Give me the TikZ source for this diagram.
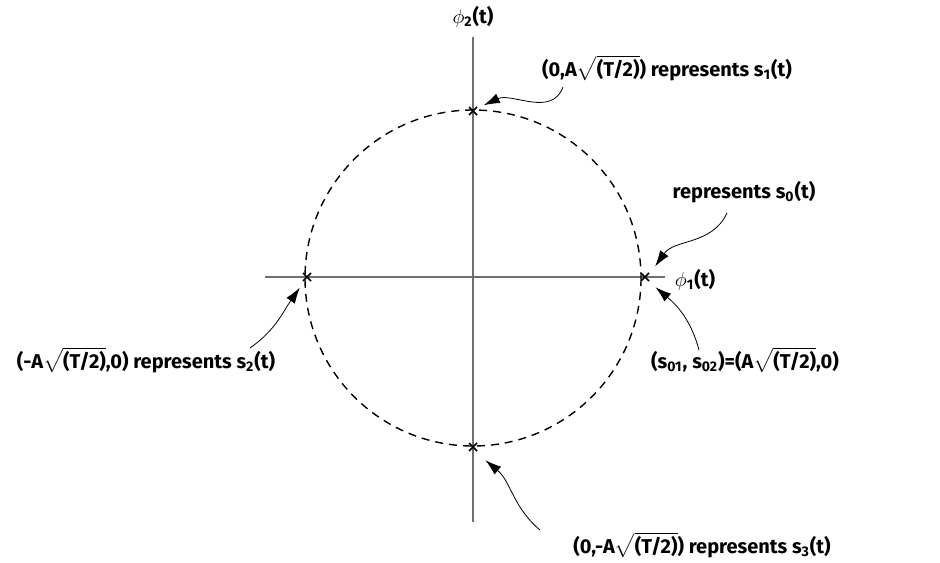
\documentclass[tikz,border=0pt]{standalone}
\usepackage{amsmath}
\usepackage{fontspec}
\setmainfont{Fira Sans}
\usepackage{tikz}
\usetikzlibrary{arrows.meta}
\definecolor{AxisGray}{HTML}{6E6E6E}

\begin{document}
\begin{tikzpicture}[x=0.5pt, y=-0.5pt,
  axis/.style={draw=AxisGray, line width=0.6pt},
  orbit/.style={draw=black, dashed, line width=0.7pt, dash pattern=on 4pt off 3pt},
  tag/.style={font=\fontsize{10}{12}\selectfont\bfseries, inner sep=1pt},
  pointer/.style={-{Latex[length=2.8mm, width=1.8mm]}, line width=0.4pt, shorten >=1pt},
  cross/.style={line width=0.8pt}
]
\useasboundingbox (0,0) rectangle (940,562);
% axes
\coordinate (o) at (473,278);
\draw[axis] (265,277) -- (665,277);
\draw[axis] (473,37) -- (473,522);
\node[tag] (phi2) at (473,17) {$\phi$\textsubscript{2}(t)};
\node[tag] (phi1) at (695,280) {$\phi$\textsubscript{1}(t)};
% signal circle
\draw[orbit] (o) circle (168);
% signal points
\coordinate (p0) at (645,277);
\coordinate (p1) at (473,111);
\coordinate (p2) at (307,277);
\coordinate (p3) at (473,447);
\foreach \p in {p0,p1,p2,p3}
  \draw[cross] ([shift={(-4,-4)}]\p) -- ([shift={(4,4)}]\p)
               ([shift={(-4,4)}]\p) -- ([shift={(4,-4)}]\p);
% labels
\node[tag] (l1) at (667,68) {(0,A$\sqrt{\mbox{(T/2)}}$) represents s\textsubscript{1}(t)};
\node[tag] (l0) at (744,192) {represents s\textsubscript{0}(t)};
\node[tag] (l2) at (146,360) {(-A$\sqrt{\mbox{(T/2)}}$,0) represents s\textsubscript{2}(t)};
\node[tag] (l0b) at (745,360) {(s\textsubscript{01}, s\textsubscript{02})=(A$\sqrt{\mbox{(T/2)}}$,0)};
\node[tag] (l3) at (702,545) {(0,-A$\sqrt{\mbox{(T/2)}}$) represents s\textsubscript{3}(t)};
% pointers
\coordinate (t1) at (563,87);
\coordinate (t0) at (727,213);
\coordinate (t2) at (250,348);
\coordinate (t0b) at (699,350);
\coordinate (t3) at (540,530);
\draw[pointer] (t1) to[out=-110, in=25] ([shift={(9,-5)}]p1);
\draw[pointer] (t0) to[out=-115, in=55] ([shift={(9,-9)}]p0);
\draw[pointer] (t2) to[out=35, in=-125] ([shift={(-6,9)}]p2);
\draw[pointer] (t0b) to[out=105, in=-40] ([shift={(9,9)}]p0);
\draw[pointer] (t3) to[out=140, in=-40] ([shift={(11,12)}]p3);
\end{tikzpicture}
\end{document}
